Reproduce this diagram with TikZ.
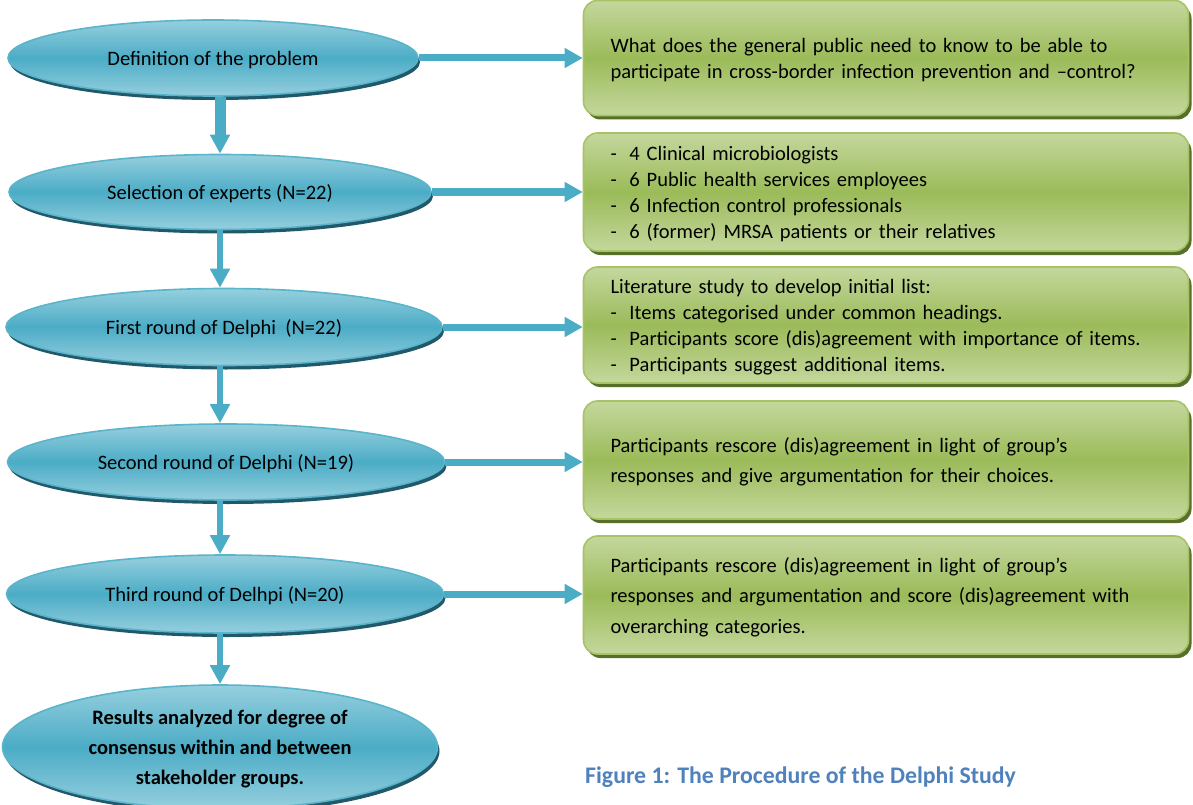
\documentclass[tikz,border=0pt]{standalone}
\usepackage{fontspec}
\setmainfont{Carlito}
\usetikzlibrary{shapes.geometric,shadows,arrows.meta}

\definecolor{blueTop}{HTML}{96CFDE}
\definecolor{blueMid}{HTML}{4BACC6}
\definecolor{blueEdge}{HTML}{5AB4CB}
\definecolor{blueShadow}{HTML}{22596A}
\definecolor{greenTop}{HTML}{C4D79D}
\definecolor{greenMid}{HTML}{9BBB59}
\definecolor{greenEdge}{HTML}{A6C365}
\definecolor{greenShadow}{HTML}{56702A}
\definecolor{arrowBlue}{HTML}{4BACC6}
\definecolor{captionBlue}{HTML}{4F81BD}

\tikzset{
  stage/.style={ellipse, inner sep=0pt, draw=blueEdge, line width=1.6pt,
    top color=blueTop, bottom color=blueTop, middle color=blueMid,
    general shadow={fill=blueShadow, shadow xshift=2pt, shadow yshift=-4pt},
    font=\fontsize{20.5}{26}\selectfont, align=center, text depth=0pt},
  infobox/.style={rectangle, rounded corners=14pt, draw=greenEdge, line width=1.6pt,
    top color=greenTop, bottom color=greenTop, middle color=greenMid,
    general shadow={fill=greenShadow, shadow xshift=3pt, shadow yshift=-4pt},
    minimum width=605pt, text width=551pt, inner xsep=27pt, inner ysep=0pt,
    align=left, font=\fontsize{20.5}{26}\selectfont},
  wide/.style={font=\fontsize{20.5}{30.5}\selectfont},
  downarrow/.style={draw=arrowBlue, line width=6pt,
    -{Triangle[width=19pt,length=19pt,fill=arrowBlue]}},
  sidearrow/.style={draw=arrowBlue, line width=7pt,
    -{Triangle[width=19pt,length=18pt,fill=arrowBlue]}},
}
\newcommand{\dashitem}[1]{\makebox[19pt][l]{-}#1}

\begin{document}
\begin{tikzpicture}[x=1pt,y=-1pt]
\useasboundingbox (0,0) rectangle (1193,805);

% process stages
\node[stage, minimum width=410pt, minimum height=76pt] (e1) at (213,58) {Definition of the problem};
\node[stage, minimum width=422pt, minimum height=75pt] (e2) at (220,192) {Selection of experts (N=22)};
\node[stage, minimum width=436pt, minimum height=77pt] (e3) at (224,327) {First round of Delphi~~(N=22)};
\node[stage, minimum width=437pt, minimum height=76pt] (e4) at (226,462) {Second round of Delphi (N=19)};
\node[stage, minimum width=437pt, minimum height=78pt] (e5) at (225,594) {Third round of Delhpi (N=20)};
\node[stage, minimum width=435pt, minimum height=124pt, font=\fontsize{20.5}{30}\selectfont\bfseries] (e6) at (220,747)
  {Results analyzed for degree of\\consensus within and between\\stakeholder groups.};

% descriptions (text depth leaves out the last line's descenders)
\node[infobox, minimum height=115pt, text depth=26pt] (b1) at (886,58)
  {What does the general public need to know to be able to\\participate in cross-border infection prevention and --control?};
\node[infobox, minimum height=118pt, text depth=78pt] (b2) at (886,192)
  {\dashitem{4 Clinical microbiologists}\\\dashitem{6 Public health services employees}\\
   \dashitem{6 Infection control professionals}\\\dashitem{6 (former) MRSA patients or their relatives}};
\node[infobox, minimum height=116pt, text depth=78pt] (b3) at (886,325)
  {Literature study to develop initial list:\\\dashitem{Items categorised under common headings.}\\
   \dashitem{Participants score (dis)agreement with importance of items.}\\\dashitem{Participants suggest additional items.}};
\node[infobox, wide, minimum height=118pt, text depth=30.5pt] (b4) at (886,460)
  {Participants rescore (dis)agreement in light of group’s\\responses and give argumentation for their choices.};
\node[infobox, wide, minimum height=118pt, text depth=61pt] (b5) at (886,595)
  {Participants rescore (dis)agreement in light of group’s\\responses and argumentation and score (dis)agreement with\\overarching categories.};

% caption
\node[anchor=west, inner sep=0pt, text=captionBlue, font=\fontsize{23.8}{28}\selectfont\bfseries] (cap) at (585,777)
  {Figure 1: The Procedure of the Delphi Study};

% flow down the stages
\coordinate (ax) at (220,0);
\draw[downarrow, line width=11pt] (e1.south -| ax) -- (e2.north -| ax);
\draw[downarrow] (e2.south -| ax) -- (e3.north -| ax);
\draw[downarrow] (e3.south -| ax) -- (e4.north -| ax);
\draw[downarrow] (e4.south -| ax) -- (e5.north -| ax);
\draw[downarrow] (e5.south -| ax) -- (e6.north -| ax);

% stage to description
\foreach \i in {1,...,5}
  \draw[sidearrow] (e\i.east) -- (e\i.east -| b\i.west);
\end{tikzpicture}
\end{document}
